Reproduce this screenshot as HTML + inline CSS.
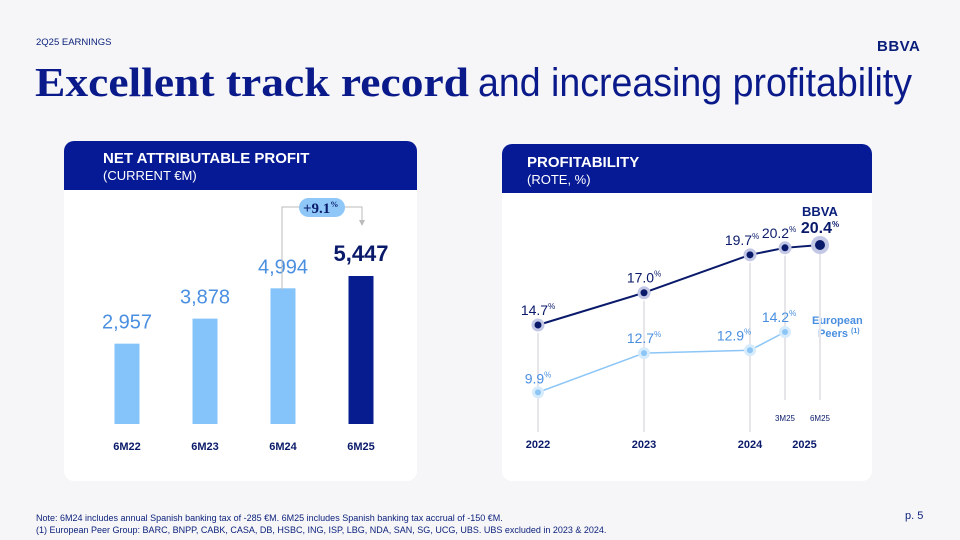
<!DOCTYPE html>
<html><head><meta charset="utf-8"><style>
html,body{margin:0;padding:0;background:#f6f6f8;}
svg{display:block;font-family:"Liberation Sans",sans-serif;}
</style></head><body>
<svg width="960" height="540" viewBox="0 0 960 540">
<rect x="0" y="0" width="960" height="540" fill="#f6f6f8"/>
<text x="36" y="45" font-size="9.5" fill="#0a1f7a">2Q25 EARNINGS</text>
<text x="877" y="51" font-size="15" font-weight="bold" fill="#0a1f7a" letter-spacing="0.5">BBVA</text>
<text x="35" y="96" font-family="Liberation Serif,serif" font-weight="bold" font-size="41" fill="#0a1a8a" textLength="434" lengthAdjust="spacingAndGlyphs">Excellent track record</text>
<text x="478" y="96" font-size="40" fill="#0a1a8a" textLength="434" lengthAdjust="spacingAndGlyphs">and increasing profitability</text>

<g>
<rect x="64" y="141" width="353" height="340" rx="10" fill="#fff"/>
<path d="M64 190 V151 a10 10 0 0 1 10 -10 H407 a10 10 0 0 1 10 10 V190 Z" fill="#061a96"/>
<text x="103" y="163" font-size="15" font-weight="bold" fill="#fff">NET ATTRIBUTABLE PROFIT</text>
<text x="103" y="180" font-size="13" fill="#fff">(CURRENT €M)</text>
<g id="bars"></g>
<path d="M282 290 V207 H362 V222" fill="none" stroke="#bbb" stroke-width="1"/>
<path d="M359 220 L362 226 L365 220" fill="#bbb"/>
<rect x="299" y="198" width="46" height="19" rx="9.5" fill="#8fc8f8"/>
<text x="303" y="213" font-family="Liberation Serif,serif" font-weight="bold" font-size="15" fill="#0a1a6a">+9.1<tspan font-size="8" dy="-6">%</tspan></text>
</g>

<g>
<rect x="502" y="144" width="370" height="337" rx="10" fill="#fff"/>
<path d="M502 193 V154 a10 10 0 0 1 10 -10 H862 a10 10 0 0 1 10 10 V193 Z" fill="#061a96"/>
<text x="527" y="167" font-size="15" font-weight="bold" fill="#fff">PROFITABILITY</text>
<text x="527" y="184" font-size="13" fill="#fff">(ROTE, %)</text>
<text x="802" y="216" font-size="13" font-weight="bold" fill="#0a1f7a">BBVA</text>
<text x="812" y="324" font-size="11" font-weight="bold" fill="#4a8fe0">European</text>
<text x="818" y="337" font-size="11" font-weight="bold" fill="#4a8fe0">Peers <tspan font-size="7" dy="-4">(1)</tspan></text>
<g id="line"></g>
</g>

<text x="36" y="521" font-size="9" fill="#0a1f7a">Note: 6M24 includes annual Spanish banking tax of -285 €M. 6M25 includes Spanish banking tax accrual of -150 €M.</text>
<text x="36" y="533" font-size="9" fill="#0a1f7a">(1) European Peer Group: BARC, BNPP, CABK, CASA, DB, HSBC, ING, ISP, LBG, NDA, SAN, SG, UCG, UBS. UBS excluded in 2023 &amp; 2024.</text>
<text x="905" y="519" font-size="11" fill="#0a1f7a">p. 5</text>
</svg>
<script>
const barCategories = ["6M22","6M23","6M24","6M25"];
const barValues = [2957,3878,4994,5447];
const barLabels = ["2,957","3,878","4,994","5,447"];

const rotePoints = ["2022","2023","2024","3M25","6M25"];
const bbvaRote = [14.7,17.0,19.7,20.2,20.4];
const peersRote = [9.9,12.7,12.9,14.2];
const peersLabels = ["9.9","12.7","12.9","14.2"];
const bbvaLabels = ["14.7","17.0","19.7","20.2","20.4"];
const yearLabels = ["2022","2023","2024","2025"];

const NS="http://www.w3.org/2000/svg";
function mk(tag, attrs, parent){const e=document.createElementNS(NS,tag);for(const k in attrs)e.setAttribute(k,attrs[k]);parent.appendChild(e);return e;}

const bg=document.getElementById('bars');
const barBase=424, barScale=148/5447;
const barX=i=>127+i*78;
const barY=v=>barBase-v*barScale;
barValues.forEach((v,i)=>{
  const last=i===barValues.length-1;
  const r=mk('rect',{x:barX(i)-12.5,y:barY(v),width:25,height:barBase-barY(v),fill:last?'#071c8e':'#85c4fa'},bg);
  
  
  const t=mk('text',{x:barX(i),y:barY(v)-15,'text-anchor':'middle','font-size':last?22:20,'font-weight':last?'bold':'normal',fill:last?'#0a1a6a':'#4a8fe0'},bg);
  t.textContent=barLabels[i];
  
  
  const c=mk('text',{x:barX(i),y:450,'text-anchor':'middle','font-size':11,'font-weight':'bold',fill:'#0a1a6a'},bg);
  c.textContent=barCategories[i];
  
  
});

const lg=document.getElementById('line');
const xPos=[538,644,750,785,820];
const lx=i=>xPos[i];
const ly=v=>325-(v-14.7)*(80/5.7);
const gridBottom=[432,432,432,400,400];
rotePoints.forEach((p,i)=>{
  const l=mk('line',{x1:lx(i),x2:lx(i),y1:ly(bbvaRote[i])+8,y2:gridBottom[i],stroke:'#e6e6ea','stroke-width':2},lg);
  
  
});
[['3M25',3],['6M25',4]].forEach(([s,i])=>{
  const t=mk('text',{x:lx(i),y:421,'text-anchor':'middle','font-size':8,fill:'#0a1a6a'},lg);
  t.textContent=s;
  
  
});
const yearX=[lx(0),lx(1),lx(2),(lx(3)+lx(4))/2+2];
yearLabels.forEach((y,i)=>{
  const t=mk('text',{x:yearX[i],y:448,'text-anchor':'middle','font-size':11,'font-weight':'bold',fill:'#0a1a6a'},lg);
  t.textContent=y;
  
  
});
const pp=mk('polyline',{points:peersRote.map((v,i)=>lx(i)+','+ly(v)).join(' '),fill:'none',stroke:'#8cc6f6','stroke-width':1.5},lg);


const bp=mk('polyline',{points:bbvaRote.map((v,i)=>lx(i)+','+ly(v)).join(' '),fill:'none',stroke:'#0a1a6a','stroke-width':2},lg);


const peerOff=[0,0,-16,-6];
peersRote.forEach((v,i)=>{
  mk('circle',{cx:lx(i),cy:ly(v),r:6,fill:'#d6ebfc'},lg);
  const c=mk('circle',{cx:lx(i),cy:ly(v),r:3,fill:'#8cc6f6'},lg);
  
  
  const t=mk('text',{x:lx(i)+peerOff[i],y:ly(v)-(i===0?9:10),'text-anchor':'middle','font-size':14,fill:'#4a8fe0'},lg);
  t.textContent=peersLabels[i];
  const s=mk('tspan',{'font-size':8,dy:-6},t);s.textContent='%';
  
  
});
bbvaRote.forEach((v,i)=>{
  const last=i===bbvaRote.length-1;
  mk('circle',{cx:lx(i),cy:ly(v),r:last?9:6.5,fill:'#c3c7e6'},lg);
  const c=mk('circle',{cx:lx(i),cy:ly(v),r:last?5:3.5,fill:'#0a1a6a'},lg);
  
  
  const off=[0,0,-8,-6,0][i];
  const t=mk('text',{x:lx(i)+off,y:ly(v)-(last?12:10),'text-anchor':'middle','font-size':last?16:14,'font-weight':last?'bold':'normal',fill:'#0a1a6a'},lg);
  t.textContent=bbvaLabels[i];
  const s=mk('tspan',{'font-size':8,dy:-6},t);s.textContent='%';
  
  
});
</script>
</body></html>
